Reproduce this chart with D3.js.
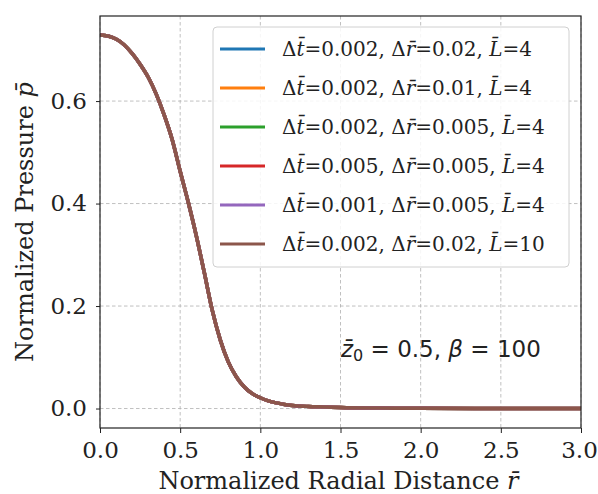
<!DOCTYPE html>
<html><head><meta charset="utf-8">
<script src="https://cdn.jsdelivr.net/npm/d3@7"></script>
<style>body{margin:0;background:#fff}svg{display:block}</style>
</head><body>
<script>
// ---- data ----
const radius = [0.00,0.05,0.10,0.15,0.20,0.25,0.30,0.35,0.40,0.45,0.50,0.55,0.60,0.65,0.70,0.75,0.80,0.85,0.90,0.95,1.00,1.05,1.10,1.15,1.20,1.30,1.40,1.50,1.75,2.00,2.50,3.00];
const s1 = [0.729,0.727,0.721,0.710,0.693,0.672,0.647,0.614,0.573,0.525,0.463,0.403,0.338,0.266,0.192,0.134,0.091,0.062,0.042,0.029,0.021,0.015,0.011,0.008,0.006,0.004,0.003,0.002,0.001,0.0005,0.0002,0.0];
const s2 = [0.729,0.727,0.721,0.710,0.693,0.672,0.647,0.614,0.573,0.525,0.463,0.403,0.338,0.266,0.192,0.134,0.091,0.062,0.042,0.029,0.021,0.015,0.011,0.008,0.006,0.004,0.003,0.002,0.001,0.0005,0.0002,0.0];
const s3 = [0.729,0.727,0.721,0.710,0.693,0.672,0.647,0.614,0.573,0.525,0.463,0.403,0.338,0.266,0.192,0.134,0.091,0.062,0.042,0.029,0.021,0.015,0.011,0.008,0.006,0.004,0.003,0.002,0.001,0.0005,0.0002,0.0];
const s4 = [0.729,0.727,0.721,0.710,0.693,0.672,0.647,0.614,0.573,0.525,0.463,0.403,0.338,0.266,0.192,0.134,0.091,0.062,0.042,0.029,0.021,0.015,0.011,0.008,0.006,0.004,0.003,0.002,0.001,0.0005,0.0002,0.0];
const s5 = [0.729,0.727,0.721,0.710,0.693,0.672,0.647,0.614,0.573,0.525,0.463,0.403,0.338,0.266,0.192,0.134,0.091,0.062,0.042,0.029,0.021,0.015,0.011,0.008,0.006,0.004,0.003,0.002,0.001,0.0005,0.0002,0.0];
const s6 = [0.729,0.727,0.721,0.710,0.693,0.672,0.647,0.614,0.573,0.525,0.463,0.403,0.338,0.266,0.192,0.134,0.091,0.062,0.042,0.029,0.021,0.015,0.011,0.008,0.006,0.004,0.003,0.002,0.001,0.0005,0.0002,0.0];
const seriesValues = [s1,s2,s3,s4,s5,s6];
const dtLabels = ["0.002","0.002","0.002","0.005","0.001","0.002"];
const drLabels = ["0.02","0.01","0.005","0.005","0.005","0.02"];
const LLabels = ["4","4","4","4","4","10"];
const colors = ["#1f77b4","#ff7f0e","#2ca02c","#d62728","#9467bd","#8c564b"];
const xTicks = [0.0,0.5,1.0,1.5,2.0,2.5,3.0];
const yTicks = [0.0,0.2,0.4,0.6];

// ---- layout ----
const W = 598, H = 494;
const m = {left:100, right:17, top:16, bottom:66};
const pw = W - m.left - m.right, ph = H - m.top - m.bottom;
const svg = d3.select("body").append("svg").attr("width",W).attr("height",H);
const g = svg.append("g").attr("transform",`translate(${m.left},${m.top})`);
const x = d3.scaleLinear().domain([0,3]).range([0,pw]);
const y = d3.scaleLinear().domain([-0.038,0.766]).range([ph,0]);
const serif = "DejaVu Serif";

// grid
g.append("g").selectAll("line").data(xTicks).join("line")
  .attr("x1",d=>x(d)).attr("x2",d=>x(d)).attr("y1",0).attr("y2",ph)
  .attr("stroke","#b0b0b0").attr("stroke-width",0.8).attr("stroke-dasharray","3.5,2.5");
g.append("g").selectAll("line").data(yTicks).join("line")
  .attr("y1",d=>y(d)).attr("y2",d=>y(d)).attr("x1",0).attr("x2",pw)
  .attr("stroke","#b0b0b0").attr("stroke-width",0.8).attr("stroke-dasharray","3.5,2.5");

// lines
const line = d3.line().x((d,i)=>x(radius[i])).y(d=>y(d)).curve(d3.curveMonotoneX);
svg.append("clipPath").attr("id","c").append("rect").attr("width",pw).attr("height",ph);
g.append("g").attr("clip-path","url(#c)").selectAll("path").data(seriesValues).join("path")
  .attr("d",line).attr("fill","none").attr("stroke",(d,i)=>colors[i]).attr("stroke-width",3.5);

// axes
const xa = g.append("g").attr("transform",`translate(0,${ph})`)
  .call(d3.axisBottom(x).tickValues(xTicks).tickFormat(d3.format(".1f")).tickSize(5).tickPadding(9));
const ya = g.append("g")
  .call(d3.axisLeft(y).tickValues(yTicks).tickFormat(d3.format(".1f")).tickSize(4).tickPadding(9));
[xa,ya].forEach(a=>{
  a.select(".domain").remove();
  a.selectAll("text").attr("font-family",serif).attr("font-size",23).attr("fill","#222");
  a.selectAll("line").attr("stroke","#222").attr("stroke-width",1);
});
xa.selectAll(".tick text").filter(d=>d===3).attr("dx",-2);
g.append("rect").attr("width",pw).attr("height",ph).attr("fill","none").attr("stroke","#222").attr("stroke-width",1.2);

// axis labels
const xl = svg.append("text").attr("x",m.left+pw/2-2).attr("y",489).attr("text-anchor","middle")
  .attr("font-family",serif).attr("font-size",24).attr("fill","#222");
xl.append("tspan").text("Normalized Radial Distance ");
xl.append("tspan").attr("font-style","italic").text("r\u0304");
const yl = svg.append("text").attr("transform",`translate(33,${m.top+ph/2}) rotate(-90)`).attr("text-anchor","middle")
  .attr("font-family",serif).attr("font-size",24).attr("fill","#222");
yl.append("tspan").text("Normalized Pressure  ");
yl.append("tspan").attr("font-style","italic").text("p\u0304");

// legend
const lg = svg.append("g");
lg.append("rect").attr("x",213).attr("y",27).attr("width",356).attr("height",240).attr("rx",4)
  .attr("fill","#fff").attr("fill-opacity",0.85).attr("stroke","#d0d0d0").attr("stroke-width",1);
const rows = lg.selectAll("g.row").data(colors).join("g").attr("class","row")
  .attr("transform",(d,i)=>`translate(0,${49+i*39})`);
rows.append("line").attr("x1",220).attr("x2",265).attr("stroke",d=>d).attr("stroke-width",3);
rows.each(function(d,i){
  const t = d3.select(this).append("text").attr("x",282).attr("y",7)
    .attr("font-family",serif).attr("font-size",20).attr("fill","#222");
  t.append("tspan").text("\u0394");
  t.append("tspan").attr("font-style","italic").text("t\u0304");
  t.append("tspan").text("=" + dtLabels[i] + ", \u0394");
  t.append("tspan").attr("font-style","italic").text("r\u0304");
  t.append("tspan").text("=" + drLabels[i] + ", ");
  t.append("tspan").attr("font-style","italic").text("L\u0304");
  t.append("tspan").text("=" + LLabels[i]);
});

// annotation
const an = svg.append("text").attr("x",341).attr("y",357).attr("font-family","DejaVu Sans").attr("font-size",23).attr("fill","#222");
an.append("tspan").attr("font-style","italic").text("z\u0304");
an.append("tspan").attr("font-size",16).attr("dy",4).text("0");
an.append("tspan").attr("dy",-4).text(" = 0.5, ");
an.append("tspan").attr("font-style","italic").text("\u03b2");
an.append("tspan").text(" = 100");
</script>
</body></html>
